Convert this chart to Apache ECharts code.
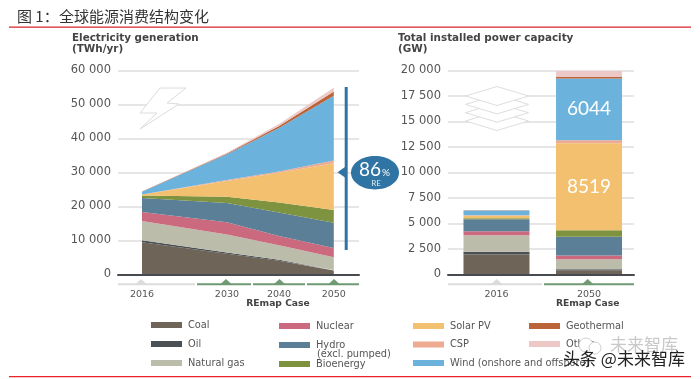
<!DOCTYPE html>
<html>
<head>
<meta charset="utf-8">
<style>html,body{margin:0;padding:0;background:#fff}#c{width:700px;height:379px}</style>
<script src="https://cdn.jsdelivr.net/npm/echarts@6/dist/echarts.min.js"></script>
</head>
<body>
<div id="c"></div>
<script>
var genYears = ['2016', '2030', '2040', '2050'];
var genSlots = [0, 3.1, 5, 7];
var capYears = ['2016', '2050'];
var capSlots = [1, 2];

var genCoal = [9500, 6100, 4050, 1200];
var genOil = [600, 400, 300, 150];
var genGas = [5600, 5300, 4250, 3750];
var genNuclear = [2700, 3600, 2700, 2700];
var genHydro = [4100, 5600, 6900, 7400];
var genBio = [700, 1900, 3000, 3800];
var genSolar = [300, 4600, 8700, 13700];
var genCsp = [30, 300, 400, 800];
var genWind = [800, 7600, 12800, 19100];
var genGeo = [50, 200, 600, 1200];
var genOther = [50, 200, 600, 1100];

var capCoal = [1960, 425];
var capOil = [260, 95];
var capGas = [1635, 980];
var capNuclear = [395, 360];
var capHydro = [1175, 1830];
var capBio = [95, 655];
var capSolar = [265, 8519];
var capCsp = [15, 306];
var capWind = [475, 6044];
var capGeo = [15, 150];
var capOther = [10, 590];

var names = ['Coal', 'Oil', 'Natural gas', 'Nuclear', 'Hydro', 'Bioenergy', 'Solar PV', 'CSP', 'Wind (onshore and offshore)', 'Geothermal', 'Other'];
var colors = ['#6e6558', '#4a5054', '#bcbcab', '#cb6a7e', '#5b7f96', '#7e933f', '#f3c06f', '#eeab92', '#6bb3dc', '#bc6439', '#ecc9c6'];
var genAll = [genCoal, genOil, genGas, genNuclear, genHydro, genBio, genSolar, genCsp, genWind, genGeo, genOther];
var capAll = [capCoal, capOil, capGas, capNuclear, capHydro, capBio, capSolar, capCsp, capWind, capGeo, capOther];

var FONT = '"DejaVu Sans", sans-serif';
var CJK = '"Noto Sans CJK SC", sans-serif';
var TXT = '#555';

function fmt(v) { return String(v).replace(/\B(?=\d{3}$)/, ' '); }

var series = [];
names.forEach(function (n, i) {
  series.push({
    name: n, type: 'line', stack: 'gen', xAxisIndex: 0, yAxisIndex: 0,
    encode: { x: 1, y: 0 },
    symbol: 'none', lineStyle: { width: 0 }, itemStyle: { color: colors[i] },
    areaStyle: { color: colors[i], opacity: 1 },
    data: genAll[i].map(function (v, k) { return [v, genSlots[k]]; })
  });
  series.push({
    name: n, type: 'bar', stack: 'cap', xAxisIndex: 1, yAxisIndex: 1, barWidth: 66,
    encode: { x: 1, y: 0 },
    itemStyle: { color: colors[i] },
    data: capAll[i].map(function (v, k) {
      var big = v > 6000;
      return {
        value: [v, capSlots[k]],
        label: {
          show: big, position: 'inside', color: '#fff',
          fontFamily: 'Lato, sans-serif', fontSize: 19,
          formatter: function (p) { return p.value[0]; }
        }
      };
    })
  });
});

function tickAxis(idx, min, max, slots, labels) {
  return {
    type: 'value', gridIndex: idx, min: min, max: max, z: 5,
    splitLine: { show: false },
    axisLine: { show: true, onZero: true, lineStyle: { color: '#474a4e', width: 2 } },
    axisTick: { show: false, customValues: slots },
    axisLabel: {
      customValues: slots, margin: 15, color: TXT, fontFamily: FONT, fontSize: 9.5,
      hideOverlap: false, showMinLabel: true, showMaxLabel: true,
      formatter: function (v) { return labels[slots.indexOf(v)]; }
    }
  };
}
function valAxis(idx, max, step) {
  return {
    type: 'value', gridIndex: idx, min: 0, max: max, interval: step,
    splitLine: { show: true, lineStyle: { color: '#e6e6e6', width: 2 } },
    axisLine: { show: false }, axisTick: { show: false },
    axisLabel: { margin: 7, color: TXT, fontFamily: FONT, fontSize: 11.5, padding: [2, 0, 0, 0], formatter: fmt }
  };
}

var legendSpots = [
  ['Coal', 151, 325], ['Oil', 151, 344], ['Natural gas', 151, 363],
  ['Nuclear', 279, 326], ['Hydro', 279, 345], ['Bioenergy', 279, 364],
  ['Solar PV', 413, 326], ['CSP', 413, 344.5], ['Wind (onshore and offshore)', 413, 363],
  ['Geothermal', 529, 326], ['Other', 529, 344]
];
var legends = legendSpots.map(function (s) {
  return {
    data: [s[0]], left: s[1], top: s[2] - 6, icon: 'rect', itemWidth: 31, itemHeight: 6,
    selectedMode: false, padding: 0,
    textStyle: { color: TXT, fontFamily: FONT, fontSize: 9.8, lineHeight: 12, padding: [0, 0, 0, 1] }
  };
});

function text(t, x, y, font, fill, extra) {
  var st = { text: t, x: x, y: y, font: font, fill: fill, textAlign: (extra && extra.align) || 'left', textVerticalAlign: 'middle' };
  return { type: 'text', z: 20, style: st };
}
function rect(x, y, w, h, fill, z) {
  return { type: 'rect', z: z || 15, shape: { x: x, y: y, width: w, height: h }, style: { fill: fill } };
}
function tri(x, y, fill) {
  return { type: 'polygon', z: 15, shape: { points: [[x, y], [x + 6, y + 5.5], [x - 6, y + 5.5]] }, style: { fill: fill } };
}
function diamond(cy) {
  return {
    type: 'polygon', z: 10, shape: { points: [[497, cy - 9.5], [528.5, cy], [497, cy + 9.5], [465.5, cy]] },
    style: { fill: '#fff', stroke: '#dedede', lineWidth: 1 }
  };
}
var GREEN = '#6f9a73', GREY = '#dcdcdc', BLUE = '#2f74a3';
var graphics = [
  rect(9, 26.5, 682, 1.2, '#d8232a'),
  rect(9, 376, 682, 1.2, '#e8232a'),
  text('图 1：', 17, 16, '15px ' + CJK, '#333'),
  text('全球能源消费结构变化', 59, 16, '15px ' + CJK, '#333'),
  text('Electricity generation', 72, 38.5, 'bold 10.4px ' + FONT, '#444'),
  text('(TWh/yr)', 72, 49.5, 'bold 10.4px ' + FONT, '#444'),
  text('Total installed power capacity', 398, 38.5, 'bold 10.4px ' + FONT, '#444'),
  text('(GW)', 398, 49.5, 'bold 10.4px ' + FONT, '#444'),
  // lightning bolt
  { type: 'polygon', z: 10, shape: { points: [[160, 88], [186, 88], [167, 103], [179, 104], [140, 129], [157, 113], [140, 113]] }, style: { fill: '#fff', stroke: '#dcdcdc', lineWidth: 1 } },
  // layers
  diamond(121), diamond(112.7), diamond(104.4), diamond(96),
  // axis markers
  rect(118, 283.3, 77, 2, GREY), tri(141, 279, GREY),
  rect(197, 283.3, 54, 2, GREEN), tri(226, 279, GREEN),
  rect(253, 283.3, 52, 2, GREEN), tri(279.5, 279, GREEN),
  rect(307, 283.3, 52, 2, GREEN), tri(334, 279, GREEN),
  rect(448, 283.3, 94, 2, GREY), tri(496.7, 279, GREY),
  rect(544, 283.3, 90, 2, GREEN), tri(587.7, 279, GREEN),
  text('REmap Case', 278, 303.5, 'bold 9.2px ' + FONT, '#444', { align: 'center' }),
  text('REmap Case', 587.7, 303.5, 'bold 9.2px ' + FONT, '#444', { align: 'center' }),
  // callout
  rect(344.7, 87, 3, 163, BLUE),
  { type: 'polygon', z: 15, shape: { points: [[337.5, 172.3], [345, 167], [345, 177.5]] }, style: { fill: BLUE } },
  { type: 'ellipse', z: 15, shape: { cx: 375, cy: 172.7, rx: 24, ry: 16.7 }, style: { fill: BLUE } },
  text('86', 359, 170, '19px Lato, sans-serif', '#fff'),
  text('%', 382, 173, '10px Lato, sans-serif', '#fff'),
  text('RE', 376, 183.5, '8px Lato, sans-serif', '#dfeaf2', { align: 'center' }),
  // hydro second line
  text('(excl. pumped)', 317, 354.5, '9.8px ' + FONT, TXT),
  // watermark
  { type: 'circle', z: 18, shape: { cx: 586, cy: 345, r: 7 }, style: { fill: '#fff', stroke: '#cfcfcf', lineWidth: 1 } },
  { type: 'circle', z: 18, shape: { cx: 595, cy: 348, r: 6 }, style: { fill: '#fff', stroke: '#cfcfcf', lineWidth: 1 } },
  text('未来智库', 610, 345, '17px ' + CJK, '#c9c9c9'),
  text('头条 @未来智库', 563, 359, '17px ' + CJK, '#222')
];

var option = {
  animation: false,
  backgroundColor: '#fff',
  grid: [
    { left: 118, width: 241, top: 70.5, height: 204 },
    { left: 448, width: 186, top: 70.5, height: 204 }
  ],
  xAxis: [
    tickAxis(0, -0.876, 7.92, genSlots, genYears),
    tickAxis(1, 0.476, 2.486, capSlots, capYears)
  ],
  yAxis: [valAxis(0, 60000, 10000), valAxis(1, 20000, 2500)],
  legend: legends,
  series: series,
  graphic: { elements: graphics }
};
var chart = echarts.init(document.getElementById('c'), null, { renderer: 'canvas' });
chart.setOption(option);
</script>
</body>
</html>
